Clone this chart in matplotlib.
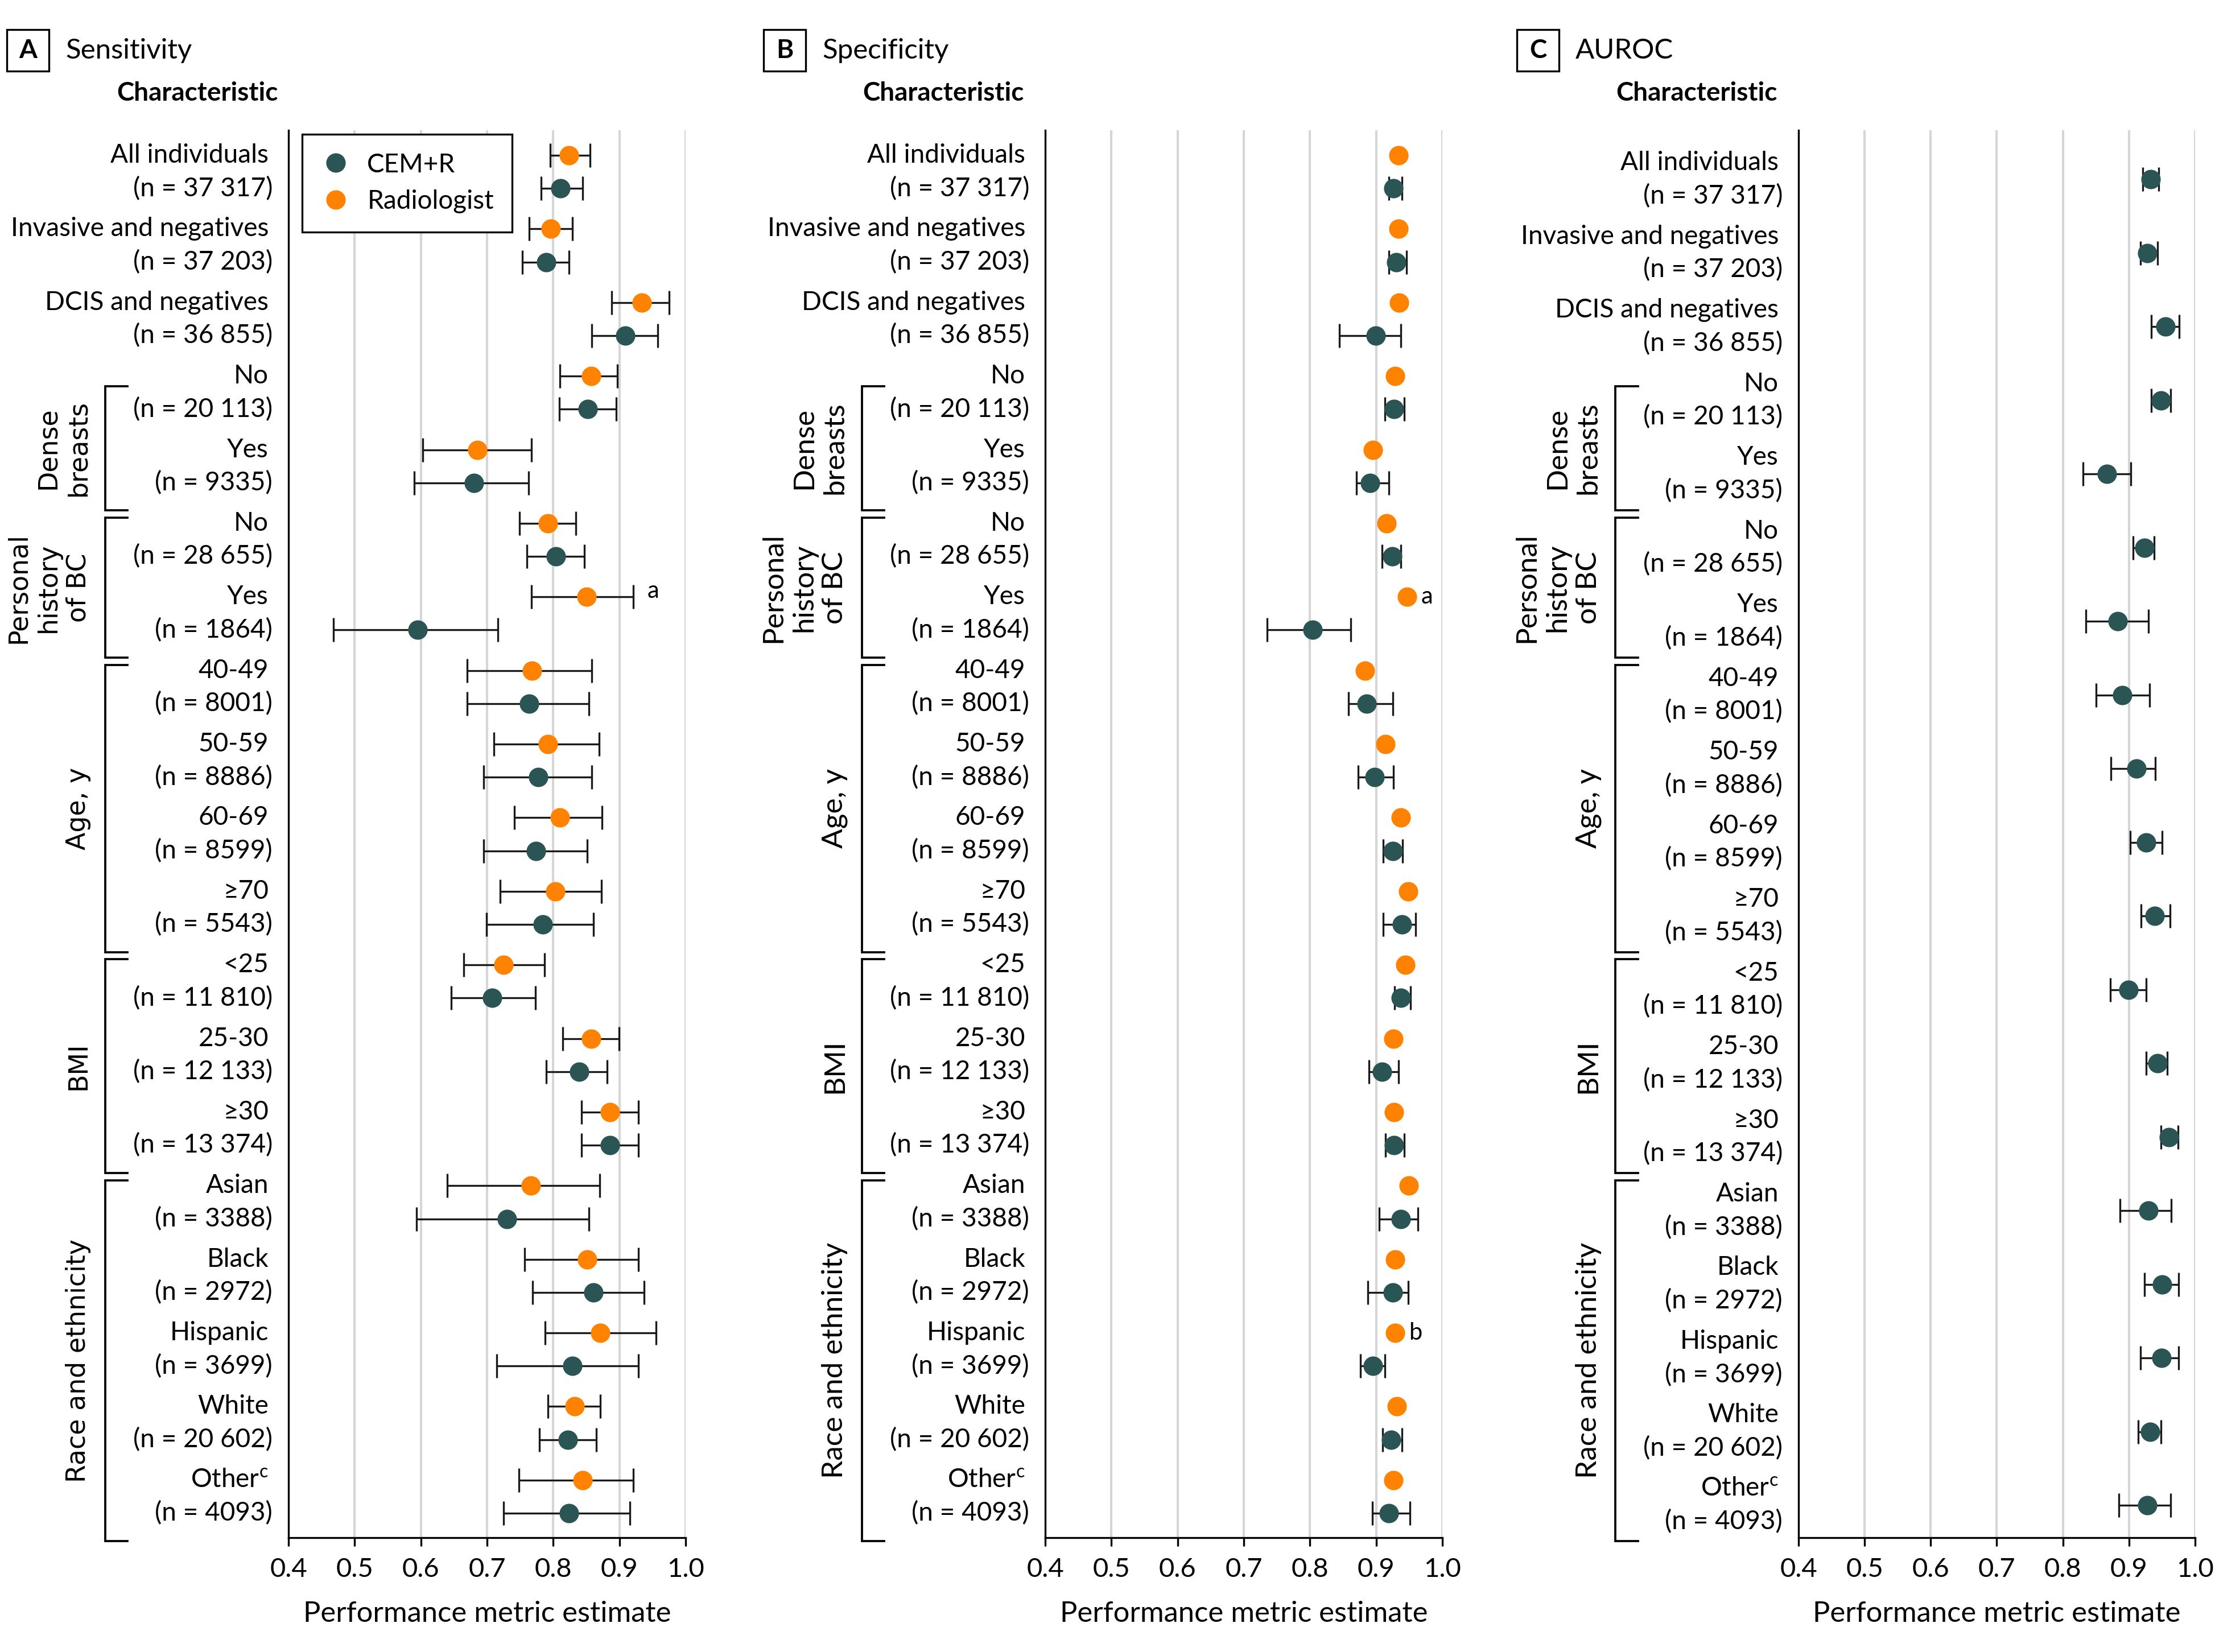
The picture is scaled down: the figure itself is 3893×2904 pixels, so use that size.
import matplotlib.pyplot as plt
import matplotlib.transforms as mtransforms
from matplotlib.patches import Rectangle
import numpy as np

# ---- data -----------------------------------------------------------------
row_names = ["All individuals", "Invasive and negatives", "DCIS and negatives",
             "No", "Yes", "No", "Yes",
             "40-49", "50-59", "60-69", "≥70",
             "<25", "25-30", "≥30",
             "Asian", "Black", "Hispanic", "White", "Other$^{\\mathregular{c}}$"]
row_counts = ["(n = 37 317)", "(n = 37 203)", "(n = 36 855)",
              "(n = 20 113)", "(n = 9335)", "(n = 28 655)", "(n = 1864)",
              "(n = 8001)", "(n = 8886)", "(n = 8599)", "(n = 5543)",
              "(n = 11 810)", "(n = 12 133)", "(n = 13 374)",
              "(n = 3388)", "(n = 2972)", "(n = 3699)", "(n = 20 602)", "(n = 4093)"]

# (label, first row, last row)
groups = [("Dense\nbreasts", 3, 4),
          ("Personal\nhistory\nof BC", 5, 6),
          ("Age, y", 7, 10),
          ("BMI", 11, 13),
          ("Race and ethnicity", 14, 18)]

sens_cem = [0.811, 0.789, 0.909, 0.852, 0.680, 0.804, 0.595, 0.764, 0.777, 0.774,
            0.784, 0.708, 0.839, 0.886, 0.730, 0.861, 0.829, 0.822, 0.824]
sens_cem_lo = [0.782, 0.753, 0.858, 0.809, 0.590, 0.760, 0.468, 0.670, 0.695, 0.695,
               0.699, 0.646, 0.789, 0.843, 0.593, 0.769, 0.715, 0.779, 0.725]
sens_cem_hi = [0.844, 0.824, 0.958, 0.895, 0.763, 0.847, 0.716, 0.854, 0.858, 0.851,
               0.861, 0.773, 0.881, 0.929, 0.854, 0.937, 0.929, 0.865, 0.916]
sens_rad = [0.824, 0.796, 0.934, 0.857, 0.685, 0.792, 0.850, 0.768, 0.792, 0.810,
            0.803, 0.725, 0.857, 0.886, 0.766, 0.851, 0.871, 0.832, 0.844]
sens_rad_lo = [0.795, 0.764, 0.888, 0.810, 0.603, 0.749, 0.767, 0.670, 0.710, 0.741,
               0.720, 0.665, 0.814, 0.843, 0.640, 0.757, 0.788, 0.792, 0.748]
sens_rad_hi = [0.856, 0.829, 0.975, 0.897, 0.767, 0.834, 0.921, 0.858, 0.869, 0.874,
               0.873, 0.787, 0.899, 0.929, 0.870, 0.929, 0.955, 0.871, 0.921]

spec_cem = [0.926, 0.930, 0.899, 0.927, 0.891, 0.924, 0.804, 0.886, 0.898, 0.925,
            0.939, 0.937, 0.909, 0.927, 0.937, 0.925, 0.895, 0.923, 0.919]
spec_cem_lo = [0.919, 0.919, 0.844, 0.913, 0.870, 0.909, 0.735, 0.858, 0.873, 0.911,
               0.911, 0.928, 0.889, 0.914, 0.905, 0.887, 0.876, 0.910, 0.894]
spec_cem_hi = [0.939, 0.946, 0.937, 0.942, 0.919, 0.937, 0.862, 0.925, 0.926, 0.940,
               0.960, 0.952, 0.934, 0.942, 0.963, 0.948, 0.913, 0.939, 0.951]
spec_rad = [0.934, 0.934, 0.935, 0.929, 0.895, 0.916, 0.947, 0.883, 0.914, 0.937,
            0.948, 0.944, 0.926, 0.927, 0.949, 0.929, 0.929, 0.931, 0.926]

auroc_cem = [0.933, 0.928, 0.955, 0.948, 0.867, 0.923, 0.883, 0.890, 0.911, 0.926,
             0.939, 0.899, 0.943, 0.960, 0.929, 0.950, 0.949, 0.932, 0.928]
auroc_cem_lo = [0.921, 0.917, 0.934, 0.934, 0.830, 0.906, 0.835, 0.850, 0.873, 0.902,
                0.918, 0.872, 0.926, 0.948, 0.886, 0.923, 0.917, 0.914, 0.885]
auroc_cem_hi = [0.945, 0.943, 0.976, 0.963, 0.903, 0.938, 0.929, 0.931, 0.940, 0.950,
                0.962, 0.926, 0.958, 0.974, 0.964, 0.975, 0.975, 0.948, 0.963]

# footnote marks on radiologist estimates: (row, mark)
sens_notes = [(6, "a")]
spec_notes = [(6, "a"), (16, "b")]

x_ticks = [0.4, 0.5, 0.6, 0.7, 0.8, 0.9, 1.0]

# ---- style ----------------------------------------------------------------
CEM_COLOR = "#2b5454"
RAD_COLOR = "#ff8200"
GRID_COLOR = "#d6d6d6"
FS = 11

W, H, DPI = 3893, 2904, 300
fig = plt.figure(figsize=(W / DPI, H / DPI), dpi=DPI)


def px_axes(x0, x1, y_top=229, y_bot=2703):
    return fig.add_axes([x0 / W, 1 - y_bot / H, (x1 - x0) / W, (y_bot - y_top) / H])


ax_a = px_axes(507, 1205)
ax_b = px_axes(1837, 2535)
ax_c = px_axes(3161, 3858)

rows = np.arange(len(row_names))
OFF = 0.225


def draw_panel(ax, letter, title, series, font, group_font, group_fs, ylim,
               notes=(), char_shift=37):
    ax.set_xlim(0.4, 1.0)
    ax.set_ylim(*ylim)
    for t in x_ticks[1:]:
        ax.axvline(t, color=GRID_COLOR, lw=1.0, zorder=0)
    for side in ("top", "right"):
        ax.spines[side].set_visible(False)
    for side in ("left", "bottom"):
        ax.spines[side].set_linewidth(0.8)
    ax.set_yticks([])
    ax.set_xticks(x_ticks)
    ax.set_xticklabels([f"{t:.1f}" for t in x_ticks], family=font, fontsize=FS + 0.3)
    ax.tick_params(axis="x", length=3.5, width=0.8, pad=5)
    ax.set_xlabel("Performance metric estimate", family=font, fontsize=FS + 1.2,
                  labelpad=8)

    handles = []
    for vals, lo, hi, color, dy, label in series:
        vals = np.asarray(vals)
        y = rows + dy
        if lo is not None:
            err = [vals - np.asarray(lo), np.asarray(hi) - vals]
            ax.errorbar(vals, y, xerr=err, fmt="none", ecolor="#1a1a1a",
                        elinewidth=0.8, capsize=5, capthick=0.8, zorder=2)
        h, = ax.plot(vals, y, "o", color=color, ms=8.2, mec="none", zorder=3,
                     label=label)
        handles.append(h)

    # row labels
    tr = mtransforms.blended_transform_factory(ax.transAxes, ax.transData)
    for i, (name, n) in enumerate(zip(row_names, row_counts)):
        ax.text(-0.05, i - OFF, name, transform=tr, ha="right", va="center",
                family=font, fontsize=FS)
        ax.text(-0.04, i + OFF, n, transform=tr, ha="right", va="center",
                family=font, fontsize=FS)

    # footnote letters next to radiologist estimates
    rad = series[-1]
    for r, mark in notes:
        x_end = rad[2][r] if rad[2] is not None else rad[0][r]
        ax.text(x_end + 0.03, r - OFF - (0.08 if rad[2] is not None else 0), mark,
                ha="center", va="center", family=font, fontsize=FS - 1)

    # group brackets, placed on the shared row grid of panel A
    gtr = mtransforms.blended_transform_factory(ax.transAxes, ax_a.transData)
    for k, (gname, first, last) in enumerate(groups):
        top = first - (0.09 if k == 0 else 0.3)
        bot = last + 0.6
        ax.plot([-0.405, -0.462, -0.462, -0.405], [top, top, bot, bot],
                transform=gtr, color="black", lw=0.9, clip_on=False,
                solid_joinstyle="miter")
        ax.text(-0.497, (top + bot) / 2, gname, transform=gtr, rotation=90,
                ha="right", va="center", multialignment="center",
                family=group_font, fontsize=group_fs, linespacing=1.22)

    # panel letter box and title, in pixel coordinates of the figure
    left_px = ax.get_position().x0 * W
    bx0 = left_px - 495
    fig.add_artist(Rectangle((bx0 / W, 1 - 125 / H), 74 / W, 73 / H,
                             transform=fig.transFigure, fill=False,
                             ec="black", lw=0.8))
    fig.text((bx0 + 37) / W, 1 - 89 / H, letter, ha="center", va="center",
             family=font, fontsize=FS, fontweight="bold")
    fig.text((left_px - 392) / W, 1 - 89 / H, title, ha="left", va="center",
             family=font, fontsize=FS + 0.8)
    fig.text((left_px - char_shift) / W, 1 - 164 / H, "Characteristic",
             ha="right", va="center", family=font, fontsize=FS,
             fontweight="bold")
    return handles


font_a = ["Lato", "DejaVu Sans"]
font_bc = ["Lato", "DejaVu Sans"]

ylim_ab = (18.557, -0.565)
ylim_c = (18.44, -0.668)

handles = draw_panel(
    ax_a, "A", "Sensitivity",
    [(sens_cem, sens_cem_lo, sens_cem_hi, CEM_COLOR, OFF, "CEM+R"),
     (sens_rad, sens_rad_lo, sens_rad_hi, RAD_COLOR, -OFF, "Radiologist")],
    font_a, ["DejaVu Sans"], FS, ylim_ab, sens_notes, char_shift=18)

leg = ax_a.legend(handles=handles, loc="upper left", bbox_to_anchor=(0.034, 0.997),
                  borderaxespad=0, frameon=True, fancybox=False, edgecolor="black",
                  framealpha=1, handletextpad=0.6, borderpad=0.7, labelspacing=0.5,
                  handlelength=1.2, prop={"family": font_a, "size": FS})
leg.get_frame().set_linewidth(0.8)

draw_panel(
    ax_b, "B", "Specificity",
    [(spec_cem, spec_cem_lo, spec_cem_hi, CEM_COLOR, OFF, "CEM+R"),
     (spec_rad, None, None, RAD_COLOR, -OFF, "Radiologist")],
    font_bc, font_bc, FS + 1.3, ylim_ab, spec_notes)

draw_panel(
    ax_c, "C", "AUROC",
    [(auroc_cem, auroc_cem_lo, auroc_cem_hi, CEM_COLOR, 0.0, "CEM+R")],
    font_bc, font_bc, FS + 1.3, ylim_c)

fig.savefig("out.png", dpi=DPI)
